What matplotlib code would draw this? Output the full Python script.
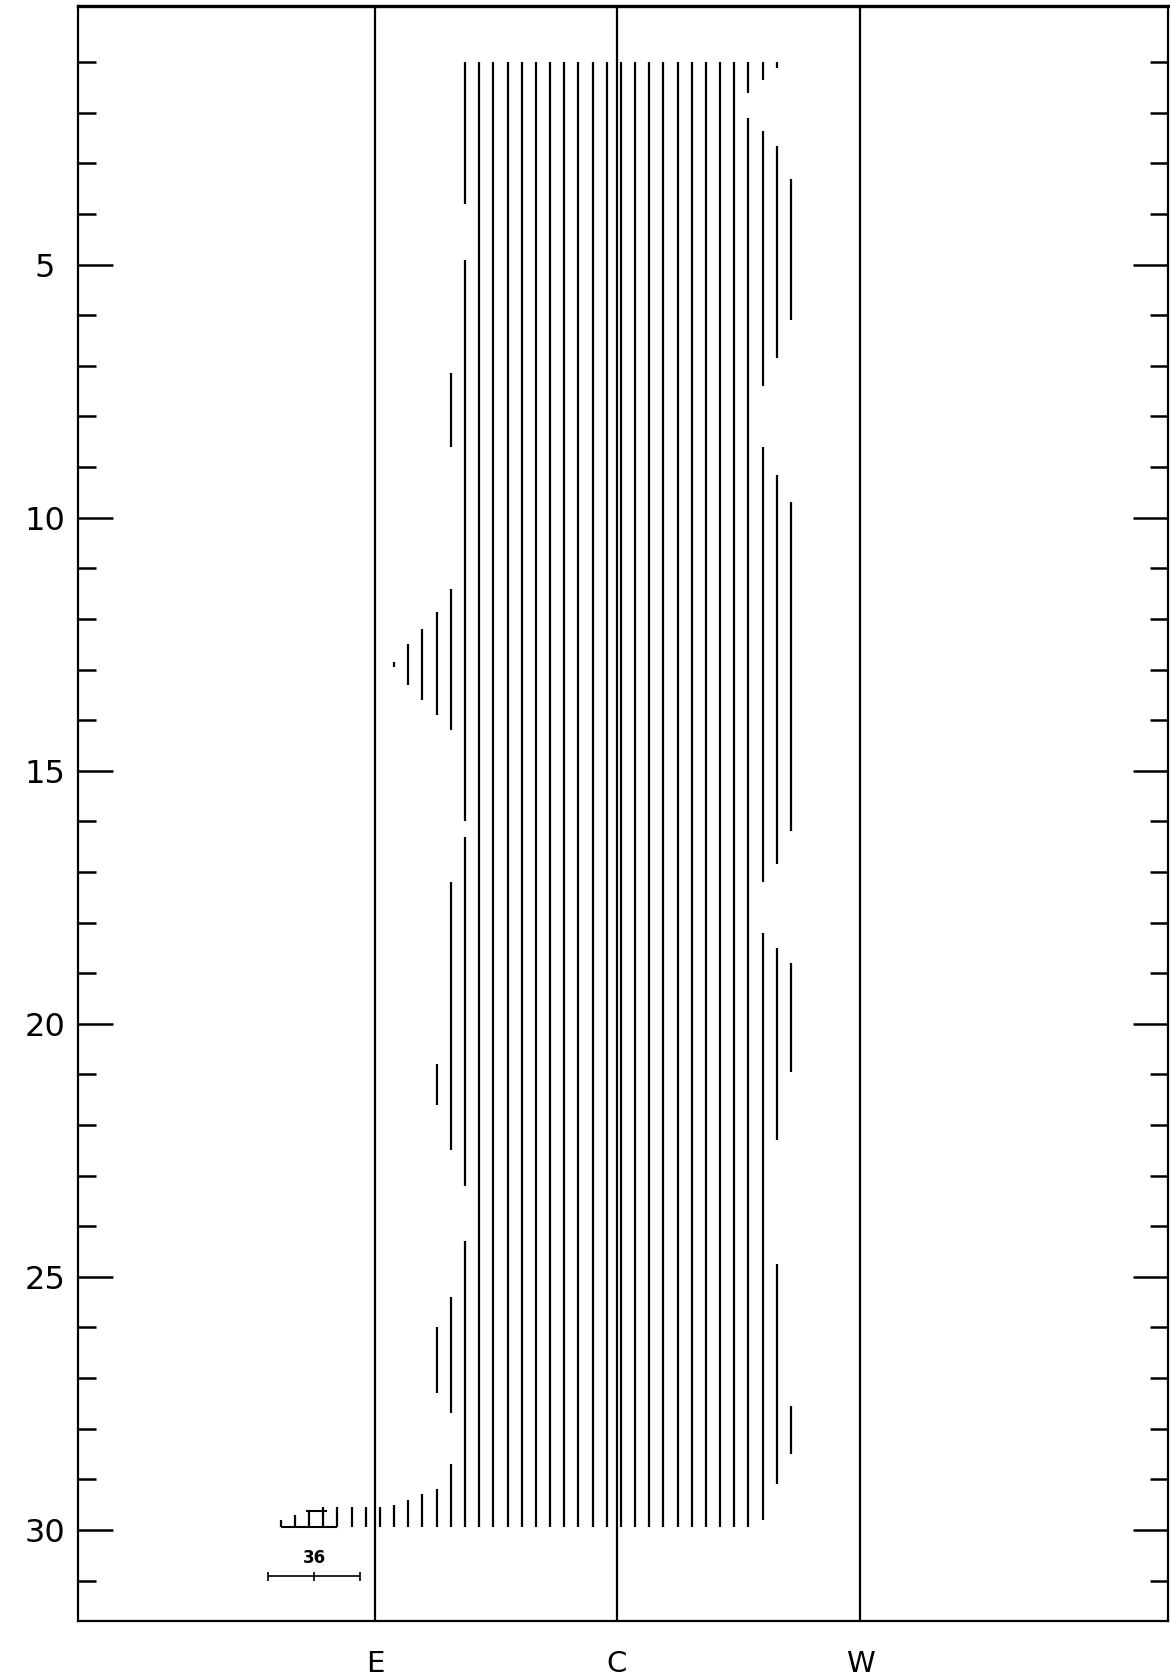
import matplotlib
matplotlib.use('Agg')
import matplotlib.pyplot as plt

# x is measured in units of the line spacing (0 = the line just east of C)
ref_pos = [-16.35, 0.73, 17.88]
ref_names = ['E', 'C', 'W']

day_major = [5, 10, 15, 20, 25, 30]
day_minor = [1, 2, 3, 4, 6, 7, 8, 9, 11, 12, 13, 14, 16, 17, 18, 19,
             21, 22, 23, 24, 26, 27, 28, 29, 31]

# columns that run the whole month
full_cols = list(range(-9, 10))
full_top = 1.0
full_bot = 29.95

# broken / short columns: column, first day, last day
seg_col = [-23, -22, -21, -20, -19, -18, -17, -16,
           -15, -15,
           -14, -14,
           -13, -13,
           -12, -12, -12, -12,
           -11, -11, -11, -11, -11,
           -10, -10, -10, -10,
           10, 10,
           11, 11, 11, 11,
           12, 12, 12, 12, 12,
           13, 13, 13, 13]
seg_top = [29.8, 29.7, 29.6, 29.55, 29.55, 29.55, 29.55, 29.55,
           12.85, 29.5,
           12.5, 29.4,
           12.2, 29.3,
           11.86, 20.8, 26.0, 29.2,
           7.15, 11.4, 17.2, 25.4, 28.7,
           1.0, 4.9, 16.3, 24.3,
           1.0, 2.1,
           1.0, 2.35, 8.6, 18.2,
           1.0, 2.65, 9.15, 18.5, 24.75,
           3.3, 9.7, 18.8, 27.55]
seg_bot = [29.95, 29.95, 29.95, 29.95, 29.95, 29.95, 29.95, 29.95,
           12.95, 29.95,
           13.3, 29.95,
           13.6, 29.95,
           13.9, 21.6, 27.3, 29.95,
           8.6, 14.2, 22.5, 27.7, 29.95,
           3.8, 16.0, 23.2, 29.95,
           1.6, 29.95,
           1.35, 7.4, 17.2, 29.8,
           1.12, 6.85, 16.85, 22.3, 29.1,
           6.1, 16.2, 20.95, 28.5]

# little horizontal strokes at the foot of the east stubs
base_x = [-23.0, -19.0]
base_y = 29.95
cross_x = [-21.2, -19.75]
cross_y = 29.62

# scale bar
scale_x = [-23.9, -17.4]
scale_mid = -20.65
scale_y = 30.92
scale_text = '36'

fig = plt.figure(figsize=(11.7, 16.8), dpi=100)
ax = fig.add_axes([78 / 1170, 59 / 1680, 1090 / 1170, 1615 / 1680])

ax.vlines(full_cols, full_top, full_bot, color='black', lw=1.6)
ax.vlines(seg_col, seg_top, seg_bot, color='black', lw=1.6)
ax.hlines([base_y, cross_y], [base_x[0], cross_x[0]], [base_x[1], cross_x[1]],
          color='black', lw=1.5)

for p in ref_pos:
    ax.axvline(p, color='black', lw=1.6)

# scale bar
ax.hlines(scale_y, scale_x[0], scale_x[1], color='black', lw=1.2)
ax.vlines([scale_x[0], scale_mid, scale_x[1]], scale_y - 0.09, scale_y + 0.09,
          color='black', lw=1.2)
ax.text(scale_mid, scale_y - 0.18, scale_text, ha='center', va='bottom',
        fontsize=12, fontweight='bold')

ax.set_xlim(-37.31, 39.61)
ax.set_ylim(31.8, -0.11)

ax.set_yticks(day_major)
ax.set_yticklabels([str(d) for d in day_major])
ax.set_yticks(day_minor, minor=True)
ax.tick_params(axis='y', which='both', direction='in', left=True, right=True,
               width=1.8, color='black')
ax.tick_params(axis='y', which='major', length=25, pad=24, labelsize=23)
ax.tick_params(axis='y', which='minor', length=13)
for lbl in ax.get_yticklabels():
    lbl.set_horizontalalignment('center')

ax.set_xticks(ref_pos)
ax.set_xticklabels(ref_names)
ax.tick_params(axis='x', length=0, pad=21, labelsize=21)

for side in ['left', 'right', 'bottom']:
    ax.spines[side].set_linewidth(1.6)
ax.spines['top'].set_linewidth(2.4)

fig.savefig('out.png', dpi=100)
